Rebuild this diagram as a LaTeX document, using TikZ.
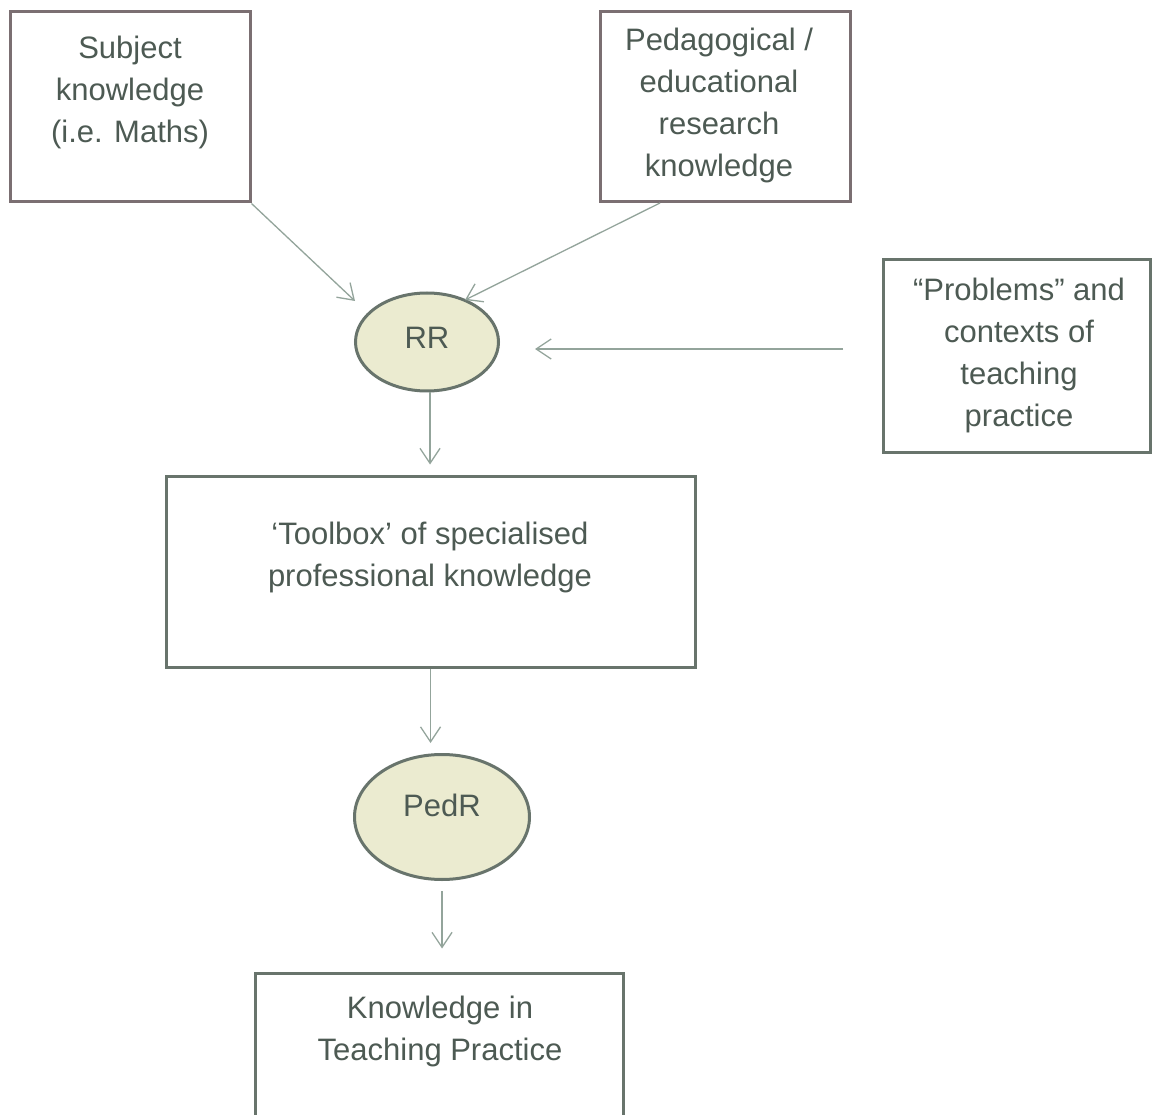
\documentclass[tikz,border=0pt]{standalone}
\usepackage{fontspec}
\setmainfont{Liberation Sans}
\usetikzlibrary{arrows.meta,shapes.geometric}
\definecolor{topframe}{HTML}{7B6F72}
\definecolor{frame}{HTML}{68746C}
\definecolor{txtgrey}{HTML}{4D5A53}
\definecolor{ovalfill}{HTML}{EBEBD0}
\definecolor{linkgrey}{HTML}{93A49B}

\begin{document}
\begin{tikzpicture}[x=1pt,y=1pt,
		box/.style={draw=frame, line width=3pt, inner sep=0pt},
		topbox/.style={box, draw=topframe},
		oval/.style={ellipse, draw=frame, fill=ovalfill, line width=3pt, inner sep=0pt},
		label/.style={text=txtgrey, align=center, font=\fontsize{31}{42}\selectfont},
		link/.style={draw=linkgrey, line width=1.3pt, -{Straight Barb[length=15pt,width=20pt]}}]
		\clip (0,0) rectangle (1152,-1115);
		\fill[white] (0,0) rectangle (1152,-1115);
		% boxes
		\node [topbox, minimum width=240, minimum height=190] (subj) at (130,-107) {};
		\node [label] (subjtext) at (130,-92) {Subject\\knowledge\\(i.e. Maths)};
		\node [topbox, minimum width=250, minimum height=190] (peda) at (725,-107) {};
		\node [label] (pedatext) at (719,-105) {Pedagogical /\\educational\\research\\knowledge};
		\node [box, minimum width=267, minimum height=192] (prob) at (1016.5,-356) {};
		\node [label] (probtext) at (1019,-355) {``Problems'' and\\contexts of\\teaching\\practice};
		\node [box, minimum width=529, minimum height=191] (tool) at (430.5,-571.5) {};
		\node [label] (tooltext) at (430,-557) {`Toolbox' of specialised\\professional knowledge};
		\node [box, minimum width=368, minimum height=152] (know) at (439,-1049) {};
		\node [label] (knowtext) at (440,-1031) {Knowledge in\\Teaching Practice};
		% reflection steps
		\node [oval, minimum width=143, minimum height=98] (rr) at (427,-342) {};
		\node [label] (rrtext) at (427,-338) {RR};
		\node [oval, minimum width=175, minimum height=125] (pedr) at (442,-817) {};
		\node [label] (pedrtext) at (442,-805) {PedR};
		% free ends
		\coordinate (subjin) at (355,-301);
		\coordinate (pedaout) at (660,-203);
		\coordinate (pedain) at (465,-300);
		\coordinate (probout) at (843,-349);
		\coordinate (probin) at (535,-349);
		% arrows
		\draw [link] (subj.south east) -- (subjin);
		\draw [link] (pedaout) -- (pedain);
		\draw [link] (probout) -- (probin);
		\draw [link, shorten >=10pt] ([xshift=3]rr.south) -- ([xshift=3]rr.south |- tool.north);
		\draw [link, shorten >=10pt] (tool.south) -- (tool.south |- pedr.north);
		\draw [link, shorten <=10pt, shorten >=23pt] (pedr.south) -- (pedr.south |- know.north);
\end{tikzpicture}
\end{document}
